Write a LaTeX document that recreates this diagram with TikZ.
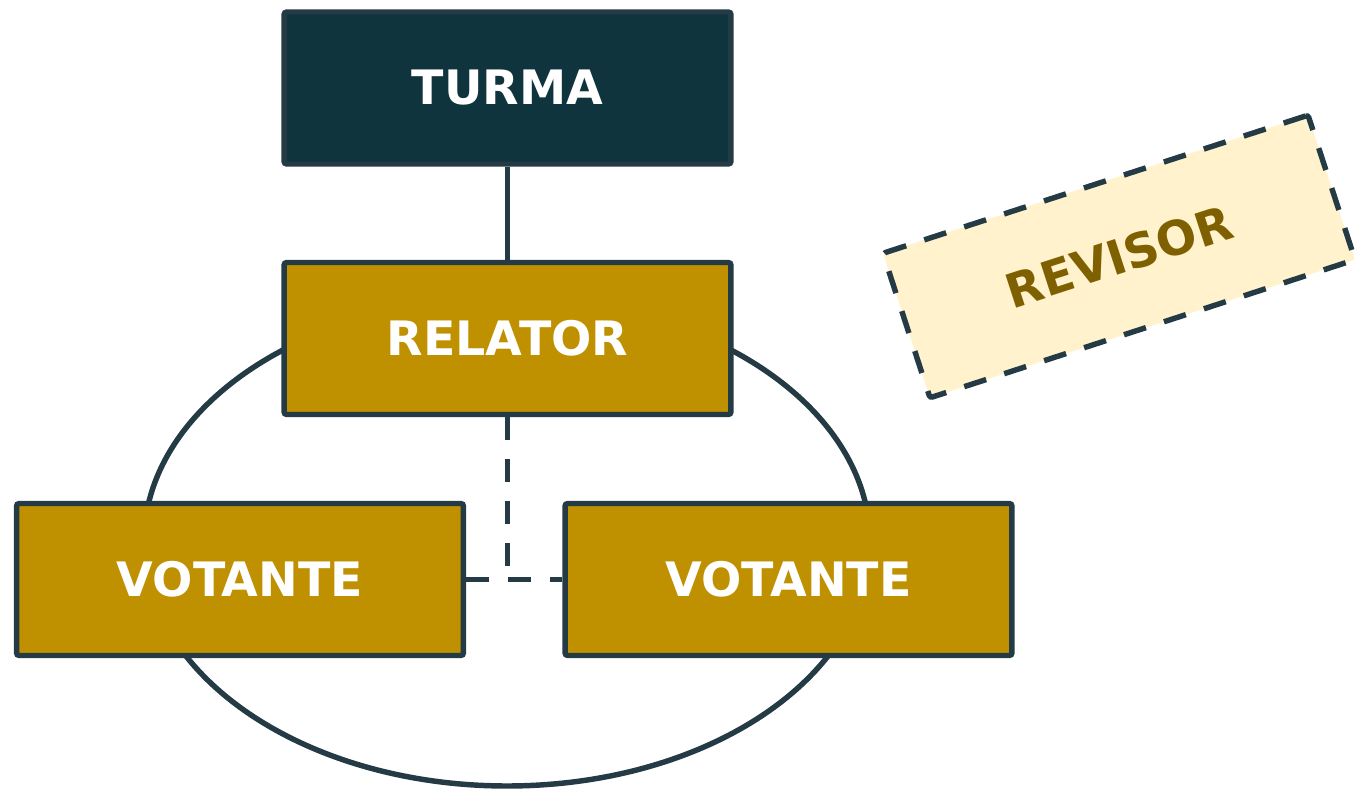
\documentclass[tikz,border=0pt]{standalone}
\usepackage{fontspec}
\setmainfont{DejaVu Sans}

\definecolor{edgeline}{HTML}{243A45}
\definecolor{turmafill}{HTML}{10343D}
\definecolor{goldfill}{HTML}{BF9000}
\definecolor{revfill}{HTML}{FFF2CC}
\definecolor{revtext}{HTML}{7F6000}

\tikzset{
    role box/.style={
        draw=edgeline,line width=3.1pt,rounded corners=1.5pt,
        fill=goldfill,text=white,
        minimum width=8.94cm,minimum height=3.04cm,
        font=\bfseries\fontsize{27}{31}\selectfont
    },
    dashed link/.style={
        draw=edgeline,line width=3.1pt,
        dash pattern=on 13.1pt off 10.8pt
    }
}

\begin{document}
\begin{tikzpicture}[x=0.02cm,y=-0.02cm]
        \useasboundingbox (0,0) rectangle (1357,793);
        % the circle of the panel
        \draw[edgeline,line width=3.1pt] (507,542) ellipse [x radius=363,y radius=244];
        \node[role box,fill=turmafill] (turma) at (507.5,88) {TURMA};
        \node[role box] (relator) at (507.5,338.5) {RELATOR};
        \foreach \i/\x in {A/240,B/788.5}
            \node[role box] (votante\i) at (\x,579.5) {VOTANTE};
        \node[role box,dashed link,fill=revfill,text=revtext,rotate=18] (revisor) at (1119,256.5) {REVISOR};
        \draw[edgeline,line width=3.1pt] (turma) -- (relator);
        \coordinate (mid) at (relator.south |- votanteA.east);
        \draw[dashed link] (relator.south) -- (mid);
        \draw[dashed link] (votanteA.east) -- (votanteB.west);
    \end{tikzpicture}
\end{document}
